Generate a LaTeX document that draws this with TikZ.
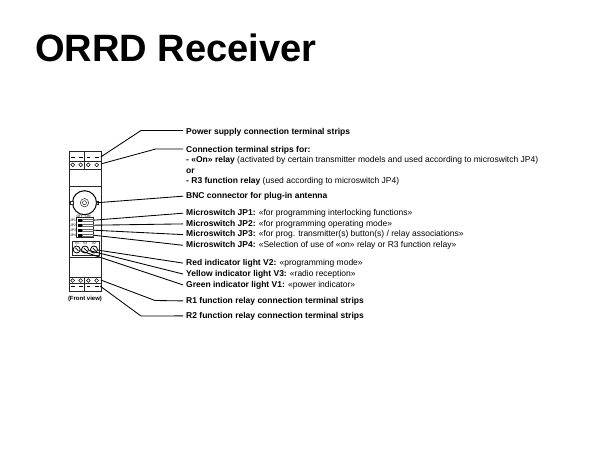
\documentclass[tikz,border=0pt]{standalone}
\usepackage{fontspec}
\setmainfont{Liberation Sans}
\usetikzlibrary{positioning}
\begin{document}
\begin{tikzpicture}[
  x=1pt, y=-1pt,
  lbl/.style={anchor=west, inner sep=3pt, text height=6pt, text depth=1.6pt, font=\fontsize{8.5}{10.4}\selectfont\bfseries},
  tiny/.style={inner sep=0pt, font=\fontsize{3.4}{3.4}\selectfont},
  part/.style={draw=black!85, line width=0.5pt},
  leader/.style={draw, line width=0.85pt},
  knob/.style={circle, draw, line width=0.8pt, minimum size=7pt, inner sep=0pt}
]
\useasboundingbox (0,0) rectangle (600,450);
\node[anchor=west, inner sep=0pt, font=\fontsize{38.1}{38}\selectfont\bfseries] (title) at (35,47.5) {ORRD Receiver};

% labels
\node[lbl] (lbl_power) at (183,132.3) {Power supply connection terminal strips};
\node[lbl, anchor=north west, align=left, text height=, text depth=, font=\fontsize{8.5}{10.4}\selectfont] (lbl_conn) at (183,143.2)
  {\bfseries Connection terminal strips for:\\
   \bfseries - «On» relay \mdseries (activated by certain transmitter models and used according to microswitch JP4)\\
   \bfseries or\\
   \bfseries - R3 function relay \mdseries (used according to microswitch JP4)};
\coordinate (lbl_conn_in) at (183,149);
\node[lbl] (lbl_bnc) at (183,196.2) {BNC connector for plug-in antenna};
\node[lbl] (lbl_jp1) at (183,213.2) {Microswitch JP1: \mdseries «for programming interlocking functions»};
\node[lbl, below=10.7pt of lbl_jp1.west, anchor=west] (lbl_jp2) {Microswitch JP2: \mdseries «for programming operating mode»};
\node[lbl, below=10.7pt of lbl_jp2.west, anchor=west] (lbl_jp3) {Microswitch JP3: \mdseries «for prog. transmitter(s) button(s) / relay associations»};
\node[lbl, below=10.7pt of lbl_jp3.west, anchor=west] (lbl_jp4) {Microswitch JP4: \mdseries «Selection of use of «on» relay or R3 function relay»};
\node[lbl, below=17.8pt of lbl_jp4.west, anchor=west] (lbl_red) {Red indicator light V2: \mdseries «programming mode»};
\node[lbl, below=10.9pt of lbl_red.west, anchor=west] (lbl_yellow) {Yellow indicator light V3: \mdseries «radio reception»};
\node[lbl, below=10.9pt of lbl_yellow.west, anchor=west] (lbl_green) {Green indicator light V1: \mdseries «power indicator»};
\node[lbl, below=16pt of lbl_green.west, anchor=west] (lbl_r1) {R1 function relay connection terminal strips};
\node[lbl, below=15pt of lbl_r1.west, anchor=west] (lbl_r2) {R2 function relay connection terminal strips};

% housing
\draw[part] (69,151.7) rectangle (101,291.7);
\foreach \y in {161.5,169,186.5,257.7,277.3,283.3}
  \draw[part] (69,\y) -- (101,\y);
\draw[part] (84.5,151.7) -- (84.5,169);
\draw[part] (84.5,277.3) -- (84.5,291.7);

% terminal screws
\foreach \x in {72.7,80.7,88.3,96.7} {
  \draw[line width=1pt] (\x-1.8,157) -- (\x+1.8,157);
  \draw[line width=1pt] (\x-1.8,286.5) -- (\x+1.8,286.5);
  \draw[line width=0.5pt] (\x,164.8) circle (1.9);
  \draw[line width=0.5pt] (\x,280.5) circle (1.9);
}

% BNC connector
\node[circle, draw, line width=1pt, minimum size=24pt, inner sep=0pt] (bnc) at (84.5,202.7) {};
\draw[part] (84.5,202.7) circle (4.2);
\draw[part] (84.5,202.7) circle (2);
\draw[part, fill=white] (70.5,201.2) rectangle (73,204.2);
\draw[part, fill=white] (96,201.2) rectangle (98.5,204.2);

% microswitches
\draw[part] (76.7,217.7) rectangle (93.3,237.7);
\node[tiny] (off) at (80,216) {OFF};
\node[tiny] (on) at (88,216) {ON};
\foreach \n/\y in {1/220.2,2/225.2,3/230.2,4/235.2} {
  \fill (77.5,\y-1.3) rectangle (82,\y+1.3);
  \draw[line width=0.2pt, black!60] (82,\y-1.3) rectangle (93.3,\y+1.3);
  \node[tiny] at (73,\y) {JP\n};
  \coordinate (jp\n) at (93.5,\y);
}

% indicator lights
\draw[part] (72.3,241.7) rectangle (99,255);
\node[knob] (v1) at (76.7,249.5) {};
\node[knob] (v3) at (85,249.5) {};
\node[knob] (v2) at (94,249.5) {};
\foreach \k in {v1,v3,v2} {
  \fill (\k) ++(-1.5,-1.5) -- ++(3,3) -- ++(0.5,-0.5) -- ++(-3,-3) -- cycle;
}
\node[tiny] at (77,243.6) {V1};
\node[tiny] at (85.3,243.6) {V3};
\node[tiny] at (94,243.6) {V2};

\node[inner sep=0pt, font=\fontsize{6}{6}\selectfont\bfseries] (front) at (85,299.3) {(Front view)};

% leaders
\coordinate (strip_power) at (100.7,157);
\coordinate (strip_conn) at (100.7,164);
\coordinate (strip_r1) at (100.7,280);
\coordinate (strip_r2) at (100,286);
\coordinate (lbl_power_in) at (183,130.5);
\draw[leader] (strip_power) -- (141,130.5) -- (lbl_power_in);
\draw[leader] (strip_conn) -- (155.7,149) -- (lbl_conn_in);
\draw[leader] (bnc.east) -- (lbl_bnc.west);
\draw[leader] (jp1) -- (lbl_jp1.west);
\draw[leader] (jp2) -- (lbl_jp2.west);
\draw[leader] (jp3) -- (lbl_jp3.west);
\draw[leader] (jp4) -- (lbl_jp4.west);
\draw[leader] (v2) -- (lbl_red.west);
\draw[leader] (v3) -- (lbl_yellow.west);
\draw[leader] (v1) -- (lbl_green.west);
\draw[leader] (strip_r1) -- (155,300.5) -- (lbl_r1.west);
\draw[leader] (strip_r2) -- (141,316) -- (lbl_r2.west);
\end{tikzpicture}
\end{document}
